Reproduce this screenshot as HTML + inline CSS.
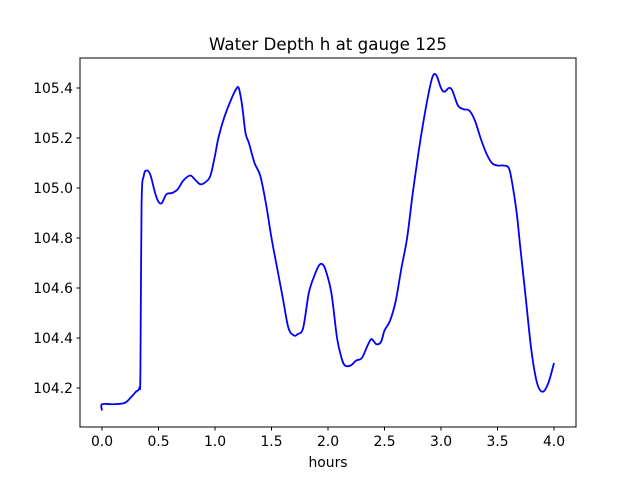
<!DOCTYPE html>
<html><head><meta charset="utf-8"><style>
body{margin:0;background:#fff;}
svg text{font-family:"DejaVu Sans","Liberation Sans",sans-serif;}
</style></head><body>
<svg id="chart" width="640" height="480" xmlns="http://www.w3.org/2000/svg">
<rect width="640" height="480" fill="#fff"/>
<text x="328" y="50" font-size="16.7" text-anchor="middle">Water Depth h at gauge 125</text>
<g id="plot"></g>
<rect x="80" y="58" width="496" height="369" fill="none" stroke="#000" stroke-width="1"/>
<text x="328" y="467" font-size="13.9" text-anchor="middle">hours</text>
</svg>
<script>
const xs=[0,0,0.1,0.2,0.25,0.3,0.33,0.34,0.35,0.37,0.4,0.43,0.47,0.5,0.53,0.57,0.62,0.67,0.72,0.78,0.82,0.87,0.92,0.96,1.0,1.03,1.08,1.13,1.18,1.21,1.24,1.27,1.3,1.35,1.4,1.45,1.5,1.55,1.6,1.65,1.7,1.73,1.78,1.83,1.88,1.92,1.95,1.98,2.03,2.08,2.12,2.15,2.2,2.25,2.3,2.35,2.38,2.4,2.43,2.47,2.5,2.55,2.6,2.65,2.7,2.75,2.8,2.85,2.9,2.93,2.96,3.0,3.03,3.07,3.1,3.15,3.2,3.25,3.3,3.35,3.4,3.45,3.5,3.55,3.6,3.63,3.67,3.7,3.75,3.8,3.85,3.9,3.95,4.0];
const ys=[104.11,104.135,104.135,104.14,104.16,104.185,104.2,104.27,104.93,105.05,105.07,105.05,104.98,104.945,104.94,104.975,104.98,104.995,105.03,105.05,105.035,105.015,105.025,105.05,105.13,105.2,105.28,105.34,105.39,105.4,105.33,105.22,105.18,105.1,105.05,104.94,104.8,104.68,104.56,104.44,104.41,104.415,104.44,104.58,104.65,104.69,104.695,104.67,104.58,104.4,104.32,104.29,104.29,104.31,104.32,104.37,104.395,104.39,104.375,104.385,104.43,104.47,104.55,104.68,104.8,104.98,105.14,105.28,105.4,105.45,105.45,105.4,105.385,105.4,105.39,105.33,105.315,105.31,105.27,105.2,105.14,105.1,105.09,105.09,105.08,105.02,104.9,104.77,104.56,104.35,104.22,104.185,104.22,104.3];
const xTicks=[0,0.5,1,1.5,2,2.5,3,3.5,4];
const xTickLabels=["0.0","0.5","1.0","1.5","2.0","2.5","3.0","3.5","4.0"];
const yTicks=[104.2,104.4,104.6,104.8,105.0,105.2,105.4];
const yTickLabels=["104.2","104.4","104.6","104.8","105.0","105.2","105.4"];
const X=v=>102+v*113;
const Y=v=>388-(v-104.2)*250;
const g=document.getElementById('plot');
const NS="http://www.w3.org/2000/svg";
function mk(t,a){const e=document.createElementNS(NS,t);for(const k in a)e.setAttribute(k,a[k]);g.appendChild(e);return e;}
xTicks.forEach((t,i)=>{
 const l=mk('line',{x1:X(t),x2:X(t),y1:427,y2:430.5,stroke:'#000'});
 
 
 const tx=mk('text',{x:X(t),y:446,'font-size':13.9,'text-anchor':'middle'});
 tx.textContent=xTickLabels[i];
 
 
});
yTicks.forEach((t,i)=>{
 const l=mk('line',{x1:76.5,x2:80,y1:Y(t),y2:Y(t),stroke:'#000'});
 
 
 const tx=mk('text',{x:73,y:Y(t)+5,'font-size':13.9,'text-anchor':'end'});
 tx.textContent=yTickLabels[i];
 
 
});
const P=xs.map((x,i)=>[X(x),Y(ys[i])]);
let d='M'+P[0][0]+','+P[0][1];
for(let i=0;i<P.length-1;i++){
 const p0=P[Math.max(0,i-1)],p1=P[i],p2=P[i+1],p3=P[Math.min(P.length-1,i+2)];
 const c1=[p1[0]+(p2[0]-p0[0])/6,p1[1]+(p2[1]-p0[1])/6];
 const c2=[p2[0]-(p3[0]-p1[0])/6,p2[1]-(p3[1]-p1[1])/6];
 d+=' C'+c1[0]+','+c1[1]+' '+c2[0]+','+c2[1]+' '+p2[0]+','+p2[1];
}
const p=mk('path',{d:d,fill:'none',stroke:'#0000ff','stroke-width':1.8,'stroke-linejoin':'round'});


</script>
</body></html>
